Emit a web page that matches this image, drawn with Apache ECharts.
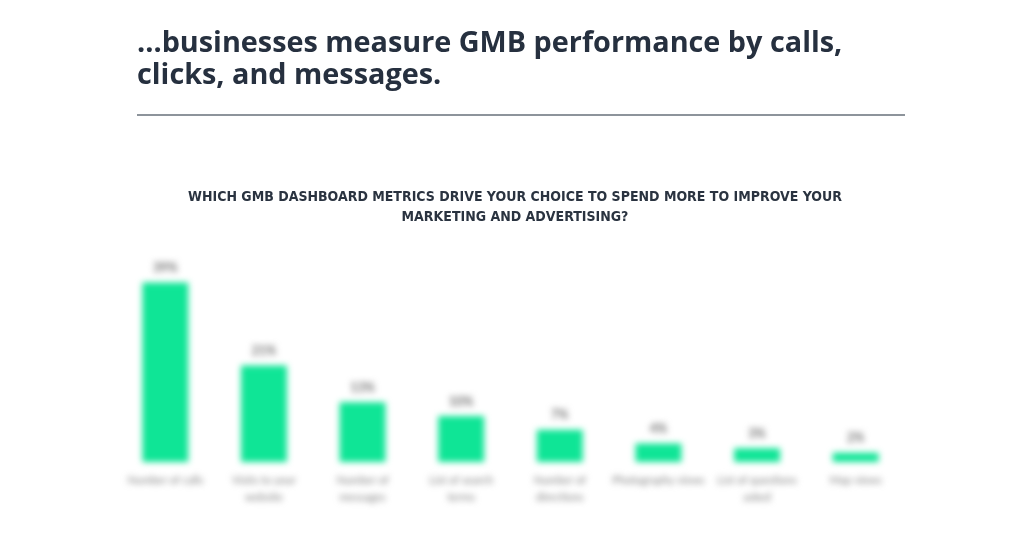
<!DOCTYPE html>
<html><head><meta charset="utf-8">
<script src="https://cdn.jsdelivr.net/npm/echarts@6/dist/echarts.min.js"></script>
<style>
html,body{margin:0;padding:0;background:#fff;}
#wrap{position:relative;width:1012px;height:548px;}
#head{position:absolute;left:0;top:0;width:1012px;height:548px;}
#bars{position:absolute;left:0;top:0;width:1012px;height:548px;filter:blur(3px);}
</style></head>
<body><div id="wrap"><div id="head"></div><div id="bars"></div></div>
<script>
const headline = "...businesses measure GMB performance by calls,\nclicks, and messages.";
const chartTitle = "WHICH GMB DASHBOARD METRICS DRIVE YOUR CHOICE TO SPEND MORE TO IMPROVE YOUR\nMARKETING AND ADVERTISING?";
const categories = ["Number of calls", "Visits to your\nwebsite", "Number of\nmessages", "List of search\nterms", "Number of\ndirections", "Photography views", "List of questions\nasked", "Map views"];
const values = [39, 21, 13, 10, 7, 4, 3, 2];

const head = echarts.init(document.getElementById('head'));
head.setOption({
  animation:false,
  title:[{
    text: headline, left:132, top:23,
    textStyle:{fontFamily:'"Open Sans", sans-serif', fontWeight:'bold', fontSize:28.8, color:'#26303f', lineHeight:32}
  }],
  graphic:[
    {type:'line', shape:{x1:137,y1:115,x2:905,y2:115}, style:{stroke:'#8d949b', lineWidth:2}},
    {type:'text', x:515, y:187, style:{text: chartTitle, textAlign:'center', align:'center', textVerticalAlign:'top', verticalAlign:'top',
      font:'bold 14px "DejaVu Sans Condensed", "Liberation Sans Narrow", sans-serif', fill:'#2a3340', lineHeight:20}}
  ]
});

const bars = echarts.init(document.getElementById('bars'));
bars.setOption({
  animation:false,
  grid:{left:116, right:107, top:232, bottom:86},
  xAxis:{type:'category', data:categories,
    axisLine:{show:false}, axisTick:{show:false},
    axisLabel:{interval:0, color:'#7e7e7e', fontSize:11, lineHeight:17, margin:10, fontFamily:'Lato, sans-serif'}},
  yAxis:{type:'value', min:0, max:50, show:false, splitLine:{show:false}},
  series:[{type:'bar', data:values, barWidth:46,
    itemStyle:{color:'#0fe596'},
    label:{show:true, position:'top', distance:8, formatter:'{c}%', color:'#6e6e6e', fontSize:12.5, fontWeight:'bold', fontFamily:'Lato, sans-serif'}
  }]
});
</script></body></html>
